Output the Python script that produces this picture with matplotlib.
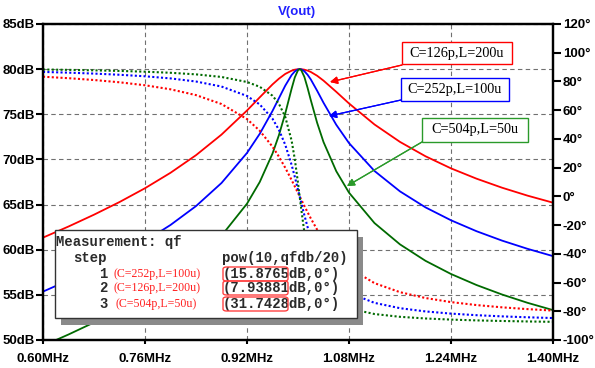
import matplotlib
matplotlib.use('Agg')
import matplotlib.pyplot as plt
from matplotlib.patches import Rectangle, FancyBboxPatch

W, H = 595, 368

# values (frequency in MHz)
freq_mhz = [0.60, 0.64, 0.68, 0.72, 0.76, 0.80, 0.84, 0.88, 0.92, 0.94, 0.96, 0.97,
            0.98, 0.99, 0.995, 1.00, 1.0026, 1.005, 1.01, 1.015, 1.02, 1.03, 1.04,
            1.06, 1.08, 1.12, 1.16, 1.20, 1.24, 1.28, 1.32, 1.36, 1.40]

mag_126p = [61.34, 62.57, 63.88, 65.28, 66.81, 68.52, 70.47, 72.75, 75.42, 76.88, 78.31, 78.94,
            79.47, 79.83, 79.94, 79.99, 80.0, 79.99, 79.94, 79.84, 79.69, 79.27, 78.73,
            77.49, 76.20, 73.87, 71.94, 70.35, 69.01, 67.87, 66.87, 65.99, 65.21]
mag_252p = [55.36, 56.61, 57.94, 59.37, 60.95, 62.74, 64.83, 67.39, 70.72, 72.84, 75.37, 76.77,
            78.17, 79.35, 79.75, 79.97, 80.0, 79.98, 79.77, 79.38, 78.87, 77.61, 76.28,
            73.84, 71.81, 68.72, 66.46, 64.69, 63.26, 62.05, 61.01, 60.10, 59.29]
mag_504p = [49.36, 50.61, 51.94, 53.38, 54.97, 56.78, 58.91, 61.55, 65.10, 67.50, 70.65, 72.67,
            75.09, 77.84, 79.09, 79.88, 80.0, 79.90, 79.14, 77.93, 76.59, 74.06, 71.93,
            68.70, 66.32, 62.95, 60.59, 58.77, 57.31, 56.09, 55.04, 54.12, 53.31]

ph_126p = [83.30, 82.27, 81.01, 79.42, 77.35, 74.54, 70.50, 64.29, 53.81, 45.69, 34.59, 27.70,
           19.90, 11.36, 6.89, 2.36, 0.0, -2.17, -6.66, -11.05, -15.29, -23.18, -30.18,
           -41.49, -49.77, -60.42, -66.71, -70.78, -73.61, -75.68, -77.26, -78.50, -79.51]
ph_252p = [86.64, 86.12, 85.48, 84.66, 83.60, 82.12, 79.96, 76.46, 69.90, 63.98, 54.05, 46.39,
           35.91, 21.89, 13.58, 4.71, 0.0, -4.34, -13.14, -21.33, -28.65, -40.57, -49.31,
           -60.51, -67.07, -74.15, -77.86, -80.11, -81.63, -82.73, -83.55, -84.19, -84.71]
ph_504p = [88.32, 88.06, 87.73, 87.33, 86.79, 86.04, 84.94, 83.13, 79.63, 76.28, 70.07, 64.52,
           55.36, 38.76, 25.78, 9.35, 0.0, -8.63, -25.03, -37.98, -47.53, -59.71, -66.73,
           -74.21, -78.05, -81.92, -83.86, -85.02, -85.79, -86.35, -86.76, -87.09, -87.35]

x_ticks = [0.60, 0.76, 0.92, 1.08, 1.24, 1.40]
db_ticks = [50, 55, 60, 65, 70, 75, 80, 85]
deg_ticks = list(range(-100, 121, 20))

labels = ['C=126p,L=200u', 'C=252p,L=100u', 'C=504p,L=50u']
steps = ['1', '2', '3']
step_params = ['(C=252p,L=100u)', '(C=126p,L=200u)', '(C=504p,L=50u)']
step_values = ['(15.8765dB,0°)', '(7.93881dB,0°)', '(31.7428dB,0°)']

RED, BLUE, GREEN = '#ff0000', '#0000ff', '#006a00'


def fx(px):
  return px / W


def fy(py):
  return 1 - py / H


fig = plt.figure(figsize=(W / 100, H / 100), dpi=100)
ax = fig.add_axes([fx(43), fy(340), (553 - 43) / W, (340 - 24) / H])
ax2 = ax.twinx()

for mag, c in zip([mag_126p, mag_252p, mag_504p], [RED, BLUE, GREEN]):
  ax.plot(freq_mhz, mag, color=c, lw=1.3, solid_joinstyle='round')
for ph, c in zip([ph_126p, ph_252p, ph_504p], [RED, BLUE, GREEN]):
  ax2.plot(freq_mhz, ph, color=c, lw=1.5, linestyle=(0, (1, 1.1)))

ax.set_xlim(0.60, 1.40)
ax.set_ylim(50, 85)
ax2.set_ylim(-100, 120)

tick_font = dict(family='Liberation Sans', weight='bold', size=9.5)
ax.set_xticks(x_ticks, [f'{v:.2f}MHz' for v in x_ticks], **tick_font)
ax.set_yticks(db_ticks, [f'{v}dB' for v in db_ticks], **tick_font)
ax2.set_yticks(deg_ticks, [f'{v}°' for v in deg_ticks], **tick_font)
ax.tick_params(axis='y', direction='out', length=5, width=1.5, pad=1)
ax.tick_params(axis='x', direction='out', length=3, width=1.5, pad=6)
ax2.tick_params(axis='y', direction='out', length=6, width=1.5, pad=1)

ax.grid(True, color='#707070', lw=0.8, linestyle=(0, (4, 3)))
for a in (ax, ax2):
  for s in a.spines.values():
    s.set_linewidth(1.6)

fig.text(fx(297), fy(12), 'V(out)', color='#2020ff', ha='center', va='center',
         family='Liberation Sans', weight='bold', size=9.5)

# legend boxes with arrows
boxes = [(402, 42, 512, 64), (401, 78, 509, 101), (422, 118, 528, 142)]
arrows = [((402, 65), (330, 82)), ((401, 100), (329, 116)), ((422, 142), (347, 186))]
for text, c, (x0, y0, x1, y1), (start, end) in zip(labels, [RED, BLUE, '#2a9a2a'], boxes, arrows):
  fig.add_artist(Rectangle((fx(x0), fy(y1)), (x1 - x0) / W, (y1 - y0) / H,
                           transform=fig.transFigure, fc='white', ec=c, lw=1, zorder=5))
  fig.text(fx((x0 + x1) / 2), fy((y0 + y1) / 2), text, ha='center', va='center',
           family='Liberation Serif', size=10.3, zorder=6)
  fig.add_artist(plt.annotate('', xy=(fx(end[0]), fy(end[1])), xycoords='figure fraction',
                              xytext=(fx(start[0]), fy(start[1])), textcoords='figure fraction',
                              arrowprops=dict(arrowstyle='-|>', color=c, lw=0.9,
                                              mutation_scale=11, shrinkA=0, shrinkB=0)))

# measurement box
fig.add_artist(Rectangle((fx(61), fy(325)), (363 - 61) / W, (325 - 237) / H,
                         transform=fig.transFigure, fc='#8a8a8a', ec='none', zorder=7))
fig.add_artist(Rectangle((fx(55), fy(318)), (357 - 55) / W, (318 - 230) / H,
                         transform=fig.transFigure, fc='white', ec='#333333', lw=1, zorder=8))
mono = dict(family='Liberation Mono', weight='bold', size=10, color='#2a2a2a', va='center', zorder=9)
fig.text(fx(56), fy(242), 'Measurement: qf', **mono)
fig.text(fx(73), fy(258), 'step', **mono)
fig.text(fx(222), fy(258), 'pow(10,qfdb/20)', **mono)
row_y = [274, 288, 304]
param_x = [113, 113, 116]
for s, p, v, y, px in zip(steps, step_params, step_values, row_y, param_x):
  fig.text(fx(99), fy(y), s, **mono)
  fig.text(fx(px), fy(y), p, family='Liberation Serif', size=8.6, color='#ff2020',
           va='center', zorder=9)
  fig.text(fx(223), fy(y), v, **mono)
  fig.add_artist(FancyBboxPatch((fx(223), fy(y + 7)), (288 - 223) / W, 14 / H,
                                boxstyle='round,pad=0,rounding_size=0.006',
                                transform=fig.transFigure, fc='none', ec='#ff4040',
                                lw=1, zorder=10))

fig.savefig('out.png', dpi=100)
